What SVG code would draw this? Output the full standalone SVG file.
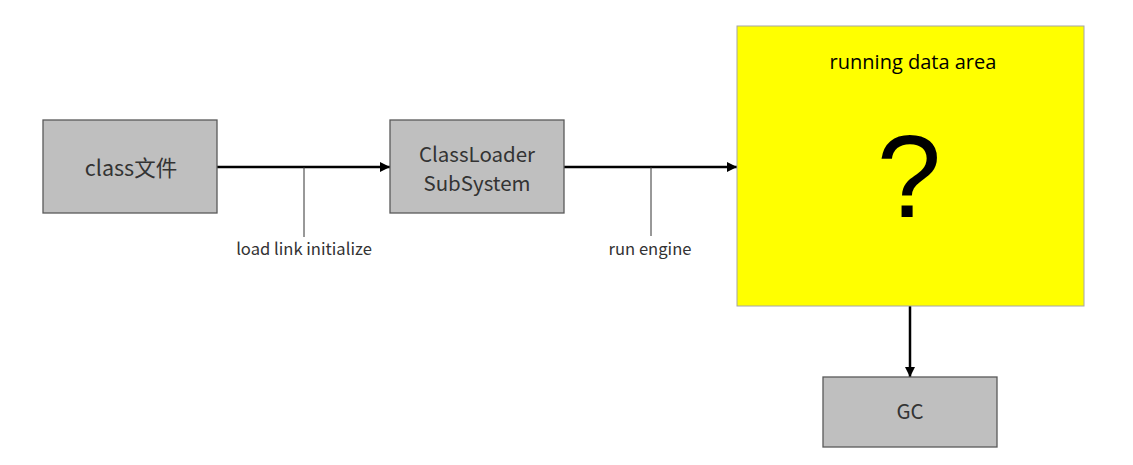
<svg xmlns="http://www.w3.org/2000/svg" width="1133" height="465" viewBox="0 0 1133 465">
<defs>
<marker id="ah" viewBox="0 0 10 10" refX="10" refY="5" markerWidth="4" markerHeight="4" orient="auto" markerUnits="strokeWidth">
<path d="M0,0 L10,5 L0,10 z" fill="#000"/>
</marker>
<style>
.box{fill:#bfbfbf;stroke:#595959;stroke-width:1.3}
.lbl{font-family:"Noto Sans CJK SC","Noto Sans",sans-serif;fill:#333;text-anchor:middle}
.conn{stroke:#000;stroke-width:2.5;fill:none}
.lead{stroke:#333;stroke-width:1;fill:none}
.small{font-family:"Noto Sans CJK SC","Noto Sans",sans-serif;fill:#333;font-size:16.6px;text-anchor:middle}
</style>
</defs>
<rect width="1133" height="465" fill="#fff"/>
<g id="connectors">
<line class="conn" x1="217" y1="167" x2="390" y2="167" marker-end="url(#ah)"/>
<line class="lead" x1="304" y1="167" x2="304" y2="237"/>
<text class="small" x="304" y="255">load link initialize</text>
<line class="conn" x1="564" y1="167" x2="737" y2="167" marker-end="url(#ah)"/>
<line class="lead" x1="651" y1="167" x2="651" y2="236"/>
<text class="small" x="650" y="255">run engine</text>
<line class="conn" x1="910" y1="306" x2="910" y2="377" marker-end="url(#ah)"/>
</g>
<g id="classfile">
<rect class="box" x="43" y="120" width="174" height="93"/>
<text class="lbl" x="131" y="176" font-size="21.5">class文件</text>
</g>
<g id="classloader">
<rect class="box" x="390" y="120" width="174" height="93"/>
<text class="lbl" x="477" y="162" font-size="20.5">ClassLoader</text>
<text class="lbl" x="477" y="191" font-size="20.5">SubSystem</text>
</g>
<g id="rda">
<rect x="737" y="26" width="347" height="280" fill="#ffff00" stroke="#a6a6a6" stroke-width="1"/>
<text x="913" y="69" font-family="Open Sans, sans-serif" font-size="20" font-weight="500" fill="#000" text-anchor="middle">running data area</text>
<text x="909" y="217" font-family="Liberation Sans, Arial, sans-serif" font-size="116" fill="#000" text-anchor="middle">?</text>
</g>
<g id="gc">
<rect class="box" x="823" y="377" width="174" height="70"/>
<text class="lbl" x="910" y="419" font-size="20.5">GC</text>
</g>
</svg>
